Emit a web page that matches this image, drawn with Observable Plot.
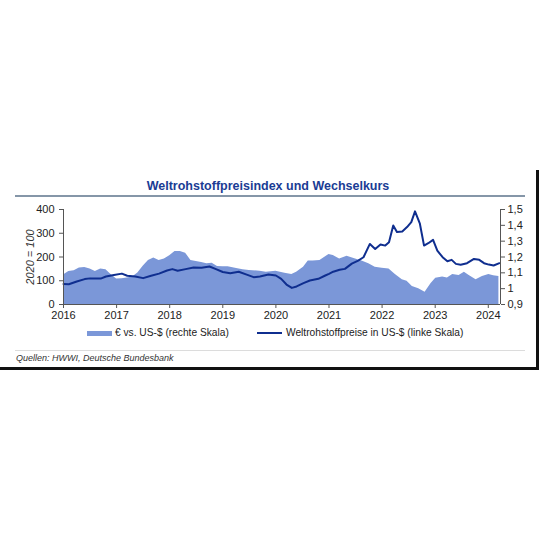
<!DOCTYPE html>
<html>
<head>
<meta charset="utf-8">
<script src="https://cdn.jsdelivr.net/npm/d3@7"></script>
<script src="https://cdn.jsdelivr.net/npm/@observablehq/plot@0.6"></script>
<style>
  html, body { margin: 0; padding: 0; background: #fff; }
  #wrap { position: relative; width: 540px; height: 540px; overflow: hidden; font-family: "Liberation Sans", Arial, sans-serif; }
  #chart { position: absolute; left: 0; top: 0; }
  .abs { position: absolute; white-space: nowrap; }
</style>
</head>
<body>
<div id="wrap">
  <div id="chart"></div>
  <div class="abs" style="left:0;width:536px;top:179px;text-align:center;font-weight:bold;font-size:12.5px;color:#1a3c94;line-height:15px;">Weltrohstoffpreisindex und Wechselkurs</div>
  <div class="abs" style="left:15px;width:510px;top:195px;height:1.5px;background:#8596a8;"></div>
  <div class="abs" style="left:30px;top:257px;width:0;height:0;">
    <div style="position:absolute;transform:translate(-50%,-50%) rotate(-90deg);font-style:italic;font-size:11px;color:#333;white-space:nowrap;">2020 = 100</div>
  </div>
  <div class="abs" style="left:87px;top:331px;width:25px;height:5px;background:#7b97d8;"></div>
  <div class="abs" style="left:115px;top:326px;font-size:10.2px;line-height:14px;color:#222;">€ vs. US-$ (rechte Skala)</div>
  <div class="abs" style="left:257px;top:332px;width:25px;height:2px;background:#0f2e8f;"></div>
  <div class="abs" style="left:286px;top:326px;font-size:10.2px;line-height:14px;color:#222;">Weltrohstoffpreise in US-$ (linke Skala)</div>
  <div class="abs" style="left:15px;width:510px;top:350px;height:1px;background:#dcdcdc;"></div>
  <div class="abs" style="left:16px;top:352px;font-style:italic;font-size:9px;line-height:12px;color:#333;">Quellen: HWWI, Deutsche Bundesbank</div>
  <div class="abs" style="left:0;width:539px;top:367px;height:2.5px;background:#111;"></div>
  <div class="abs" style="left:536px;width:2.5px;top:170px;height:199px;background:#111;"></div>
</div>
<script>
// Weltrohstoffpreise in US-$ (linke Skala), 2020 = 100
const lineYears = [2016.0,2016.1,2016.25,2016.4,2016.5,2016.7,2016.8,2016.95,2017.1,2017.2,2017.35,2017.5,2017.65,2017.8,2017.95,2018.05,2018.15,2018.3,2018.45,2018.6,2018.75,2018.86,2019.0,2019.14,2019.3,2019.45,2019.58,2019.7,2019.86,2020.0,2020.1,2020.2,2020.3,2020.39,2020.52,2020.64,2020.8,2020.93,2021.0,2021.08,2021.2,2021.3,2021.43,2021.55,2021.65,2021.77,2021.87,2021.97,2022.06,2022.13,2022.21,2022.28,2022.38,2022.47,2022.55,2022.62,2022.71,2022.79,2022.87,2022.96,2023.04,2023.14,2023.23,2023.31,2023.39,2023.48,2023.6,2023.73,2023.83,2023.92,2024.01,2024.1,2024.21];
const lineValues = [86,85,97,107,110,109,118,124,130,121,118,111,121,130,143,149,142,149,156,155,160,150,137,132,138,126,115,118,126,122,108,84,70,76,90,101,108,122,129,138,146,150,172,185,199,255,234,253,248,262,333,305,307,326,347,392,342,248,258,272,227,199,182,188,171,167,174,192,188,174,168,164,174];
// € vs. US-$ (rechte Skala)
const fxYears = [2016.0,2016.1,2016.2,2016.3,2016.4,2016.5,2016.6,2016.7,2016.8,2016.9,2017.0,2017.1,2017.2,2017.3,2017.4,2017.5,2017.6,2017.7,2017.8,2017.9,2018.0,2018.1,2018.2,2018.3,2018.4,2018.5,2018.6,2018.7,2018.8,2018.9,2019.0,2019.1,2019.26,2019.38,2019.5,2019.7,2019.82,2020.0,2020.17,2020.3,2020.39,2020.52,2020.61,2020.7,2020.83,2021.0,2021.08,2021.2,2021.34,2021.5,2021.62,2021.75,2021.87,2022.0,2022.13,2022.25,2022.38,2022.47,2022.57,2022.69,2022.81,2022.92,2023.01,2023.14,2023.23,2023.33,2023.45,2023.55,2023.64,2023.77,2023.89,2024.01,2024.1,2024.2];
const fxValues = [1.086,1.109,1.113,1.130,1.134,1.124,1.109,1.124,1.120,1.088,1.061,1.063,1.067,1.074,1.099,1.141,1.178,1.193,1.178,1.187,1.208,1.235,1.235,1.224,1.178,1.172,1.165,1.157,1.161,1.140,1.138,1.138,1.127,1.119,1.115,1.110,1.104,1.110,1.098,1.089,1.104,1.136,1.174,1.174,1.178,1.216,1.209,1.188,1.205,1.188,1.174,1.157,1.136,1.129,1.125,1.089,1.056,1.047,1.014,0.999,0.978,1.031,1.066,1.073,1.068,1.089,1.083,1.104,1.083,1.056,1.077,1.089,1.081,1.077];
const xTicks = [2016,2017,2018,2019,2020,2021,2022,2023,2024];
const xDomain = [2016, 2024.23];
const leftTicks = [0,100,200,300,400];
const leftDomain = [0, 400];
const rightTicks = [0.9,1.0,1.1,1.2,1.3,1.4,1.5];
const rightDomain = [0.9, 1.5];

const toLeft = v => (v - rightDomain[0]) / (rightDomain[1] - rightDomain[0]) * (leftDomain[1] - leftDomain[0]) + leftDomain[0];
const fromLeft = v => (v - leftDomain[0]) / (leftDomain[1] - leftDomain[0]) * (rightDomain[1] - rightDomain[0]) + rightDomain[0];
const deFmt = v => { const r = Math.round(v * 10) / 10; return String(r).replace(".", ","); };

const lineData = lineYears.map((t, i) => ({t, v: lineValues[i]}));
const fxData = fxYears.map((t, i) => ({t, v: fxValues[i]}));

const axisColor = "#555";
const chart = Plot.plot({
  width: 540,
  height: 325,
  marginTop: 209,
  marginBottom: 21,
  marginLeft: 63,
  marginRight: 40,
  style: {fontFamily: '"Liberation Sans", Arial, sans-serif', fontSize: "11px", color: "#222", background: "transparent", overflow: "visible"},
  x: {domain: xDomain},
  y: {domain: leftDomain},
  marks: [
    Plot.areaY(fxData, {x: "t", y: d => toLeft(d.v), fill: "#7b97d8", curve: "linear"}),
    Plot.lineY(lineData, {x: "t", y: "v", stroke: "#0f2e8f", strokeWidth: 2, curve: "linear"}),
    Plot.ruleY([leftDomain[0]], {stroke: axisColor}),
    Plot.ruleX([xDomain[0]], {y1: leftDomain[0], y2: leftDomain[1], stroke: axisColor}),
    Plot.ruleX([xDomain[1]], {y1: leftDomain[0], y2: leftDomain[1], stroke: axisColor}),
    Plot.axisX(xTicks, {tickFormat: d => String(d), tickSize: 4, tickPadding: 3, stroke: axisColor, label: null, fontSize: 11}),
    Plot.axisY(leftTicks, {anchor: "left", tickSize: 4, tickPadding: 5, stroke: axisColor, label: null, fontSize: 11}),
    Plot.axisY(rightTicks.map(toLeft), {anchor: "right", tickFormat: d => deFmt(fromLeft(d)), tickSize: 4, tickPadding: 3, stroke: axisColor, label: null, fontSize: 11})
  ]
});
document.getElementById("chart").appendChild(chart);
</script>
</body>
</html>
